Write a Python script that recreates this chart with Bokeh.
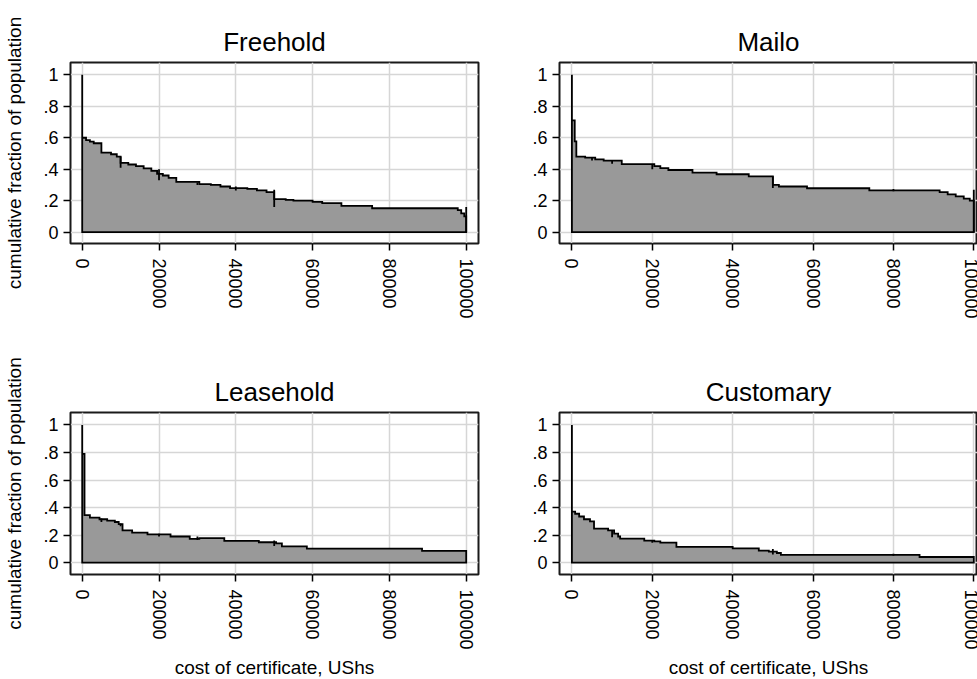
import math
from bokeh.plotting import figure
from bokeh.layouts import column, row
from bokeh.models import Range1d, FixedTicker
from bokeh.embed import file_html
from bokeh.resources import INLINE

# ---------------- data ----------------
titles = ["Freehold", "Mailo", "Leasehold", "Customary"]
y_label = "cumulative fraction of population"
x_label = "cost of certificate, UShs"
x_ticks = [0, 20000, 40000, 60000, 80000, 100000]
x_tick_labels = ["0", "20000", "40000", "60000", "80000", "100000"]
y_ticks = [0, 0.2, 0.4, 0.6, 0.8, 1]
y_tick_labels = ["0", ".2", ".4", ".6", ".8", "1"]
max_cost = 100000
top_frac = 1.0

# step levels: cost at which a level starts, and the level
freehold_cost = [0, 1000, 2000, 3000, 5000, 7500, 9000, 10000, 12000, 14000, 16000,
                 18000, 19500, 21000, 22500, 24500, 30500, 33500, 36000, 38500, 43000,
                 45500, 48000, 50000, 53000, 55000, 60000, 62500, 67500, 75500, 97800,
                 98700, 99500]
freehold_frac = [0.60, 0.585, 0.575, 0.565, 0.505, 0.495, 0.48, 0.44, 0.43, 0.42, 0.405,
                 0.39, 0.37, 0.36, 0.345, 0.32, 0.305, 0.30, 0.29, 0.28, 0.275,
                 0.265, 0.255, 0.21, 0.205, 0.20, 0.192, 0.184, 0.167, 0.152, 0.14,
                 0.12, 0.10]
freehold_spike_cost = [10000, 20000, 30000, 40000, 50000, 100000]
freehold_spike_low = [0.41, 0.33, 0.30, 0.265, 0.16, 0.0]
freehold_spike_high = [0.48, 0.40, 0.315, 0.29, 0.27, 0.16]

mailo_cost = [0, 700, 1100, 3300, 5800, 7900, 12400, 20500, 22000, 24000, 30000, 36000,
              44000, 50000, 51500, 58500, 74000, 91500, 93500, 95500, 97500, 99000]
mailo_frac = [0.71, 0.577, 0.48, 0.473, 0.463, 0.455, 0.432, 0.42, 0.407, 0.395, 0.378,
              0.368, 0.355, 0.30, 0.29, 0.279, 0.265, 0.255, 0.24, 0.228, 0.213, 0.20]
mailo_spike_cost = [5000, 10000, 20000, 50000, 80000, 100000]
mailo_spike_low = [0.455, 0.435, 0.40, 0.28, 0.26, 0.0]
mailo_spike_high = [0.475, 0.455, 0.43, 0.355, 0.275, 0.27]

leasehold_cost = [0, 600, 2000, 4500, 6500, 8500, 9500, 10500, 13000, 17000, 23000,
                  28000, 30500, 37000, 46000, 50500, 52000, 58500, 88500]
leasehold_frac = [0.79, 0.345, 0.327, 0.315, 0.305, 0.295, 0.28, 0.235, 0.218, 0.206,
                  0.19, 0.172, 0.178, 0.158, 0.148, 0.14, 0.118, 0.102, 0.086]
leasehold_spike_cost = [5000, 10000, 20000, 30000, 50000]
leasehold_spike_low = [0.295, 0.265, 0.19, 0.165, 0.12]
leasehold_spike_high = [0.32, 0.285, 0.21, 0.19, 0.16]

customary_cost = [0, 800, 1800, 3000, 4500, 5500, 9000, 10500, 11500, 12000, 18000,
                  20500, 22000, 26000, 40000, 46500, 49000, 51000, 52000, 86500]
customary_frac = [0.37, 0.355, 0.335, 0.315, 0.30, 0.247, 0.235, 0.21, 0.19, 0.175,
                  0.16, 0.155, 0.145, 0.115, 0.104, 0.088, 0.08, 0.07, 0.056, 0.041]
customary_spike_cost = [10000, 20000, 50000, 80000]
customary_spike_low = [0.185, 0.145, 0.06, 0.05]
customary_spike_high = [0.235, 0.165, 0.10, 0.065]

FONT = "Liberation Sans"


def stairs(cost, frac):
    xs = [cost[0]]
    ys = [top_frac]
    ends = cost[1:] + [max_cost]
    for x0, x1, y in zip(cost, ends, frac):
        xs += [x0, x1]
        ys += [y, y]
    xs += [max_cost, cost[0]]
    ys += [0, 0]
    return xs, ys


def panel(title, cost, frac, sx, slo, shi, left_col, top_row):
    if left_col:
        ml, fw, mr = 70, 408, 9
        xr = Range1d(-3050, 103200)
    else:
        ml, fw, mr = 72, 418, 0
        xr = Range1d(-3090, 100920)
    if top_row:
        mt, fh, mb = 62, 181, 97
        yr = Range1d(-0.072, 1.078)
    else:
        mt, fh, mb = 72, 162, 105
        yr = Range1d(-0.086, 1.090)

    p = figure(frame_width=fw, frame_height=fh, x_range=xr, y_range=yr,
               min_border_left=ml, min_border_right=mr, min_border_top=mt,
               min_border_bottom=mb, output_backend="svg", toolbar_location=None,
               title=title)
    p.title.text_font = FONT
    p.title.text_font_size = "26px"
    p.title.text_font_style = "normal"
    p.title.text_color = "black"
    p.title.align = "center"
    p.title.standoff = 12
    if not left_col:
        p.title.offset = 4

    p.background_fill_color = "white"
    p.border_fill_color = "white"
    p.outline_line_color = "#1a1a1a"
    p.outline_line_width = 2
    p.outline_line_alpha = 1

    p.xaxis.ticker = FixedTicker(ticks=x_ticks)
    p.yaxis.ticker = FixedTicker(ticks=y_ticks)
    p.xaxis.major_label_overrides = dict(zip(x_ticks, x_tick_labels))
    p.yaxis.major_label_overrides = dict(zip(y_ticks, y_tick_labels))
    p.xaxis.major_label_orientation = -math.pi / 2
    for ax in (p.xaxis, p.yaxis):
        ax.axis_line_color = None
        ax.minor_tick_line_color = None
        ax.major_tick_line_color = "black"
        ax.major_tick_line_width = 1.5
        ax.major_tick_out = 7
        ax.major_tick_in = 0
        ax.major_label_text_font = FONT
        ax.major_label_text_font_size = "18px"
        ax.major_label_text_color = "black"
    p.xaxis.major_label_standoff = 8
    p.yaxis.major_label_standoff = 5

    if left_col:
        p.yaxis.axis_label = y_label
        p.yaxis.axis_label_text_font = FONT
        p.yaxis.axis_label_text_font_size = "19px"
        p.yaxis.axis_label_text_font_style = "normal"
        p.yaxis.axis_label_text_color = "black"
        p.yaxis.axis_label_standoff = 15
    if not top_row:
        p.xaxis.axis_label = x_label
        p.xaxis.axis_label_text_font = FONT
        p.xaxis.axis_label_text_font_size = "19px"
        p.xaxis.axis_label_text_font_style = "normal"
        p.xaxis.axis_label_text_color = "black"
        p.xaxis.axis_label_standoff = 4

    p.grid.grid_line_color = "#d6d6d6"
    p.grid.grid_line_width = 1.5

    xs, ys = stairs(cost, frac)
    p.patch(xs, ys, fill_color="#999999", fill_alpha=1, line_color="black",
            line_width=1.8, line_join="miter")
    p.segment(x0=sx, y0=slo, x1=sx, y1=shi, line_color="black", line_width=1.8)
    return p


p1 = panel(titles[0], freehold_cost, freehold_frac, freehold_spike_cost,
           freehold_spike_low, freehold_spike_high, True, True)
p2 = panel(titles[1], mailo_cost, mailo_frac, mailo_spike_cost,
           mailo_spike_low, mailo_spike_high, False, True)
p3 = panel(titles[2], leasehold_cost, leasehold_frac, leasehold_spike_cost,
           leasehold_spike_low, leasehold_spike_high, True, False)
p4 = panel(titles[3], customary_cost, customary_frac, customary_spike_cost,
           customary_spike_low, customary_spike_high, False, False)

layout = column(row(p1, p2, spacing=0), row(p3, p4, spacing=0), spacing=0)
open("out.html", "w").write(file_html(layout, INLINE))
